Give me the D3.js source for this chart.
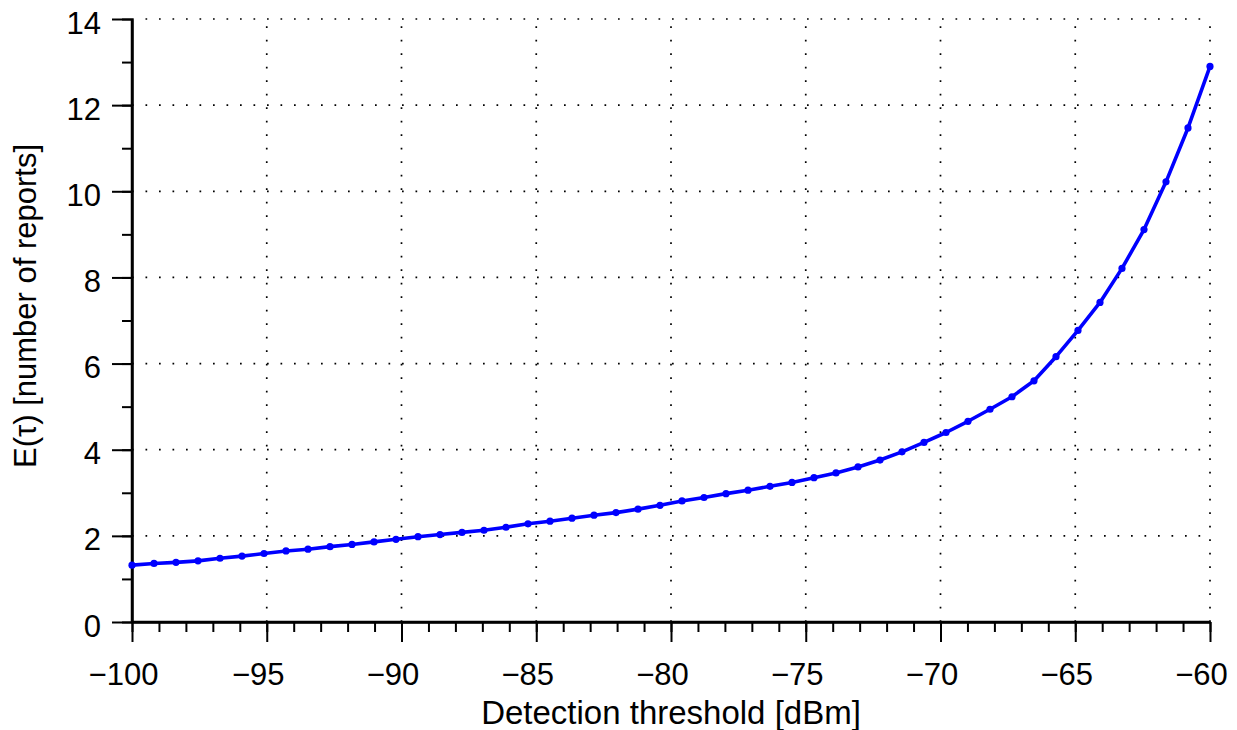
<!DOCTYPE html>
<html>
<head>
<meta charset="utf-8">
<script src="https://cdn.jsdelivr.net/npm/d3@7"></script>
<style>
  html, body { margin: 0; padding: 0; background: #fff; }
  svg { display: block; }
  text { font-family: "Liberation Sans", Arial, Helvetica, sans-serif; fill: #000; }
</style>
</head>
<body>
<svg id="chart" width="1237" height="730"></svg>
<script>
// ---- data ----
const xStart = -100, xEnd = -60, nPoints = 50;
const thresholds = d3.range(nPoints).map(i => xStart + i * (xEnd - xStart) / (nPoints - 1));
const reports = [
  1.32, 1.36, 1.385, 1.42, 1.48, 1.53, 1.59, 1.65, 1.69, 1.75,
  1.80, 1.86, 1.92, 1.98, 2.03, 2.08, 2.13, 2.20, 2.28, 2.34,
  2.41, 2.48, 2.54, 2.62, 2.71, 2.81, 2.89, 2.98, 3.06, 3.15,
  3.24, 3.35, 3.46, 3.60, 3.76, 3.95, 4.17, 4.40, 4.66, 4.94,
  5.23, 5.60, 6.16, 6.77, 7.42, 8.21, 9.11, 10.22, 11.47, 12.90
];
const xTicks = [-100, -95, -90, -85, -80, -75, -70, -65, -60];
const xMinorTicks = d3.range(-100, -59, 1);
const yTicks = [0, 2, 4, 6, 8, 10, 12, 14];
const yMinorTicks = d3.range(0, 15, 1);
const xLabel = "Detection threshold [dBm]";
const yLabel = "E(\u03C4) [number of reports]";

// ---- layout ----
const svg = d3.select("#chart");
const mLeft = 132, mRight = 1210, mTop = 19, mBottom = 622;
const x = d3.scaleLinear().domain([xStart, xEnd]).range([mLeft, mRight]);
const y = d3.scaleLinear().domain([0, 14]).range([mBottom, mTop]);
const fontSize = 31;

// grid (dotted)
const grid = svg.append("g").attr("stroke", "#000").attr("stroke-width", 1.7)
  .attr("stroke-dasharray", "1.7,11.8").attr("fill", "none");
xTicks.filter(t => t !== xStart).forEach(t => {
  grid.append("line").attr("x1", x(t)).attr("x2", x(t)).attr("y1", mBottom).attr("y2", mTop);
});
yTicks.filter(t => t !== 0).forEach(t => {
  grid.append("line").attr("x1", mLeft).attr("x2", mRight).attr("y1", y(t)).attr("y2", y(t));
});

// minor ticks
svg.append("g").attr("transform", `translate(0,${mBottom})`)
  .call(d3.axisBottom(x).tickValues(xMinorTicks).tickSize(10).tickFormat(""))
  .call(g => g.select(".domain").remove())
  .call(g => g.selectAll("line").attr("stroke-width", 2));
svg.append("g").attr("transform", `translate(${mLeft},0)`)
  .call(d3.axisLeft(y).tickValues(yMinorTicks).tickSize(10).tickFormat(""))
  .call(g => g.select(".domain").remove())
  .call(g => g.selectAll("line").attr("stroke-width", 2));

// major axes
const xAxis = svg.append("g").attr("transform", `translate(0,${mBottom})`)
  .call(d3.axisBottom(x).tickValues(xTicks).tickSize(20).tickSizeOuter(0)
    .tickFormat(d => d3.format("d")(d)));
xAxis.select(".domain").attr("stroke-width", 2.5);
xAxis.selectAll("line").attr("stroke-width", 2);
xAxis.selectAll("text").attr("font-size", fontSize).attr("y", 63).attr("dy", 0).attr("dx", -9)
  .style("font-family", '"Liberation Sans", Arial, sans-serif');

const yAxis = svg.append("g").attr("transform", `translate(${mLeft},0)`)
  .call(d3.axisLeft(y).tickValues(yTicks).tickSize(20).tickSizeOuter(0));
yAxis.select(".domain").attr("stroke-width", 2.5);
yAxis.selectAll("line").attr("stroke-width", 2);
yAxis.selectAll("text").attr("font-size", fontSize).attr("x", -31).attr("dy", 14)
  .style("font-family", '"Liberation Sans", Arial, sans-serif');

// axis lines meeting at the corner
svg.append("line").attr("x1", mLeft).attr("x2", mLeft).attr("y1", mTop).attr("y2", mBottom + 1)
  .attr("stroke", "#000").attr("stroke-width", 2.5);
svg.append("line").attr("x1", mLeft - 1).attr("x2", mRight).attr("y1", mBottom).attr("y2", mBottom)
  .attr("stroke", "#000").attr("stroke-width", 2.5);

// data line
const pts = thresholds.map((t, i) => [t, reports[i]]);
svg.append("path").datum(pts)
  .attr("fill", "none").attr("stroke", "#0000ff").attr("stroke-width", 3.6)
  .attr("stroke-linejoin", "round")
  .attr("d", d3.line().x(d => x(d[0])).y(d => y(d[1])));
svg.append("g").selectAll("circle").data(pts).join("circle")
  .attr("cx", d => x(d[0])).attr("cy", d => y(d[1])).attr("r", 3.6).attr("fill", "#0000ff");

// labels
svg.append("text").attr("x", (mLeft + mRight) / 2).attr("y", 724)
  .attr("text-anchor", "middle").attr("font-size", 33).text(xLabel);
svg.append("text").attr("transform", `translate(36,306) rotate(-90)`)
  .attr("text-anchor", "middle").attr("font-size", fontSize).text(yLabel);
</script>
</body>
</html>
